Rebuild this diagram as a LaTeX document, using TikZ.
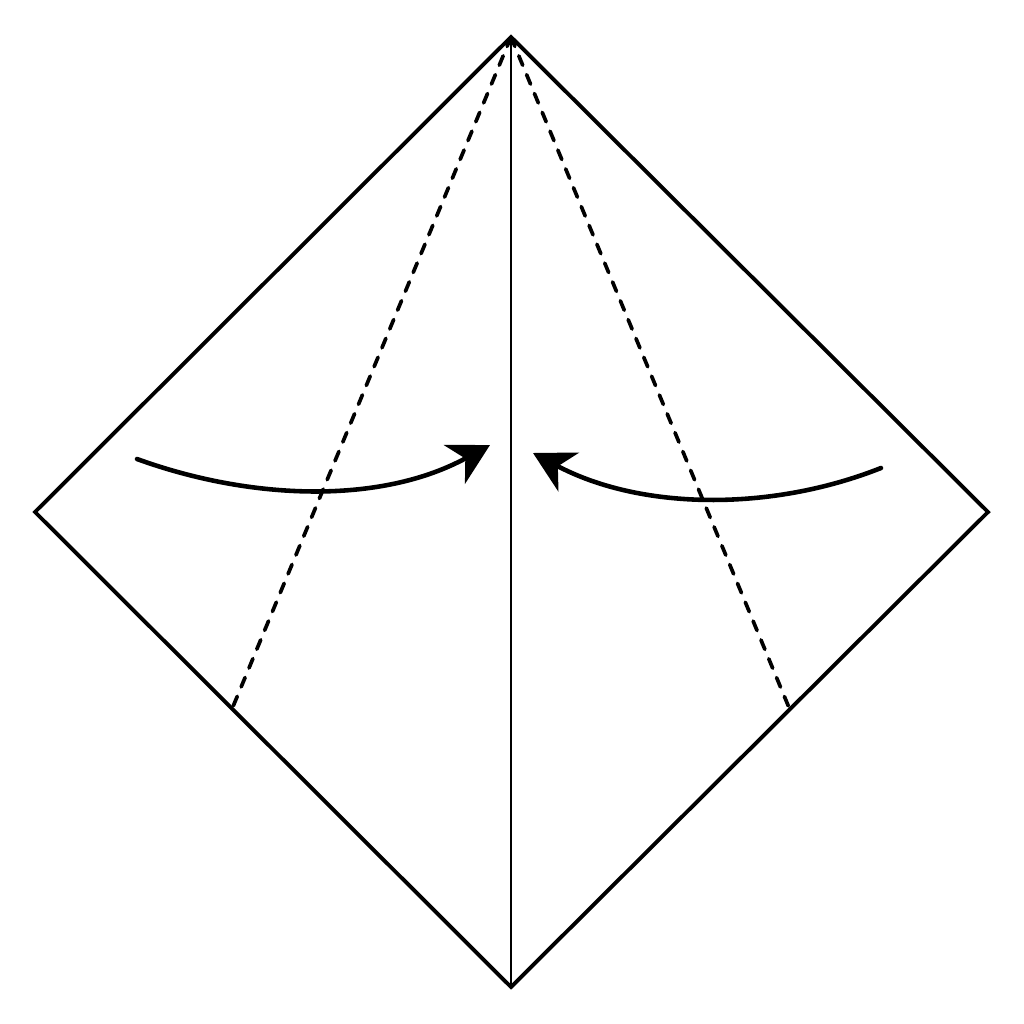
\documentclass[tikz,border=0pt]{standalone}
\usetikzlibrary{arrows.meta}
\begin{document}
\begin{tikzpicture}[x=0.01cm,y=-0.01cm,
  edge/.style={line width=1.1pt,line join=miter},
  crease/.style={line width=0.65pt},
  valley/.style={line width=1.05pt,line cap=round,dash pattern=on 2.9pt off 2.9pt},
  foldarrow/.style={line width=1.3pt,line cap=round,-{Stealth[length=11.5pt,width=12.5pt,inset=3.5pt]}}]
\useasboundingbox (0,0) rectangle (1024,1024);
\coordinate (T) at (511,37);
\coordinate (L) at (35,512);
\coordinate (R) at (988,512);
\coordinate (B) at (511,987);
\coordinate (DL) at (232,709);
\coordinate (DR) at (790,710);
\coordinate (A1s) at (137,459);
\coordinate (A1e) at (490,445);
\coordinate (A2s) at (881,468);
\coordinate (A2e) at (533,453);
\draw[crease] (T) -- (B);
\draw[valley] (T) -- (DL);
\draw[valley] (T) -- (DR);
\draw[edge] (T) -- (R) -- (B) -- (L) -- cycle;
\draw[foldarrow] (A1s) .. controls (250,500) and (380,505) .. (A1e);
\draw[foldarrow] (A2s) .. controls (770,512) and (640,510) .. (A2e);
\end{tikzpicture}
\end{document}
